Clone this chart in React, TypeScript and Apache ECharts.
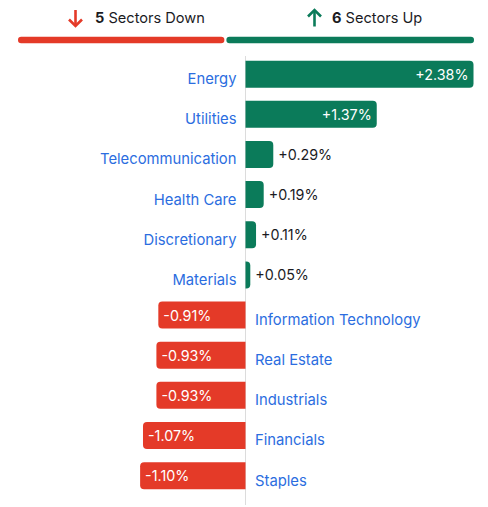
import React, { useEffect, useRef } from "react";
import * as echarts from "echarts";

// Sector performance, top to bottom
const sectors = [
  "Energy",
  "Utilities",
  "Telecommunication",
  "Health Care",
  "Discretionary",
  "Materials",
  "Information Technology",
  "Real Estate",
  "Industrials",
  "Financials",
  "Staples",
];
const changes = [2.38, 1.37, 0.29, 0.19, 0.11, 0.05, -0.91, -0.93, -0.93, -1.07, -1.1];

const UP = "#0b7b5a";
const DOWN = "#e43a28";
const LINK = "#2b6de0";
const INK = "#1b1b1f";
const FONT = "Inter, 'Noto Sans', sans-serif";

const fmt = (v: number) => (v > 0 ? "+" : "") + v.toFixed(2) + "%";

export default function App() {
  const ref = useRef<HTMLDivElement>(null);

  useEffect(() => {
    if (!ref.current) return;
    const chart = echarts.init(ref.current, undefined, { renderer: "svg" });

    const downCount = changes.filter((v) => v < 0).length;
    const upCount = changes.filter((v) => v > 0).length;
    const barLeft = 18;
    const barRight = 474;
    const gap = 2;
    const total = barRight - barLeft - gap;
    const downW = (total * downCount) / (downCount + upCount);

    const valueData = changes.map((v) => {
      const big = Math.abs(v) >= 0.5;
      return {
        value: v,
        itemStyle: {
          color: v >= 0 ? UP : DOWN,
          borderRadius: v >= 0 ? [0, 4, 4, 0] : [4, 0, 0, 4],
        },
        label: {
          position: v >= 0 ? (big ? "insideRight" : "right") : big ? "insideLeft" : "left",
          color: big ? "#ffffff" : INK,
          distance: 5,
        },
      };
    });

    const nameData = changes.map((v, i) => ({
      value: 0,
      name: sectors[i],
      label: {
        position: v >= 0 ? "left" : "right",
        distance: v >= 0 ? 9 : 9.5,
      },
    }));

    chart.setOption({
      animation: false,
      grid: { left: 6, right: 3, top: 54.1, bottom: 11.3, containLabel: false },
      xAxis: {
        type: "value",
        min: -2.5,
        max: 2.5,
        show: false,
      },
      yAxis: {
        type: "category",
        data: sectors,
        inverse: true,
        show: false,
      },
      series: [
        {
          type: "bar",
          data: valueData,
          barWidth: 27,
          z: 3,
          label: {
            show: true,
            formatter: (p: any) => fmt(p.value),
            fontFamily: FONT,
            fontSize: 14.3,
          },
        },
        {
          type: "bar",
          data: nameData,
          barWidth: 27,
          barGap: "-100%",
          silent: true,
          itemStyle: { color: "transparent" },
          label: {
            show: true,
            formatter: (p: any) => p.name,
            color: LINK,
            fontFamily: FONT,
            fontSize: 14.8,
            offset: [0, 5],
          },
        },
      ],
    });

    const zeroX = Math.round(chart.convertToPixel({ xAxisIndex: 0 }, 0) as number) - 0.5;

    chart.setOption({
      graphic: [
        // zero baseline
        {
          type: "line",
          z: 0,
          shape: { x1: zeroX, y1: 56, x2: zeroX, y2: 505 },
          style: { stroke: "#dcdcdc", lineWidth: 1 },
        },
        // breadth bar
        {
          type: "rect",
          shape: { x: barLeft, y: 36.8, width: downW, height: 6.4, r: 3.2 },
          style: { fill: DOWN },
        },
        {
          type: "rect",
          shape: { x: barLeft + downW + gap, y: 36.8, width: total - downW, height: 6.4, r: 3.2 },
          style: { fill: UP },
        },
        // down arrow
        {
          type: "line",
          shape: { x1: 75.5, y1: 10, x2: 75.5, y2: 25 },
          style: { stroke: DOWN, lineWidth: 2.6 },
        },
        {
          type: "polyline",
          shape: { points: [[69, 19.5], [75.5, 26], [82, 19.5]] },
          style: { stroke: DOWN, lineWidth: 2.6, fill: "none" },
        },
        // up arrow
        {
          type: "line",
          shape: { x1: 314.5, y1: 11, x2: 314.5, y2: 26.5 },
          style: { stroke: UP, lineWidth: 2.6 },
        },
        {
          type: "polyline",
          shape: { points: [[308, 16.5], [314.5, 10], [321, 16.5]] },
          style: { stroke: UP, lineWidth: 2.6, fill: "none" },
        },
        {
          type: "text",
          x: 95,
          y: 17.6,
          style: {
            text: `{b|${downCount}} Sectors Down`,
            fontFamily: FONT,
            fontSize: 14.6,
            fill: INK,
            verticalAlign: "middle",
            rich: { b: { fontWeight: "bold", fontFamily: FONT, fontSize: 14.6, fill: INK } },
          },
        },
        {
          type: "text",
          x: 332,
          y: 17.6,
          style: {
            text: `{b|${upCount}} Sectors Up`,
            fontFamily: FONT,
            fontSize: 14.6,
            fill: INK,
            verticalAlign: "middle",
            rich: { b: { fontWeight: "bold", fontFamily: FONT, fontSize: 14.6, fill: INK } },
          },
        },
      ],
    });

    return () => chart.dispose();
  }, []);

  return (
    <div
      ref={ref}
      style={{ position: "absolute", left: 0, top: 0, width: 488, height: 507, background: "#fff" }}
    />
  );
}
